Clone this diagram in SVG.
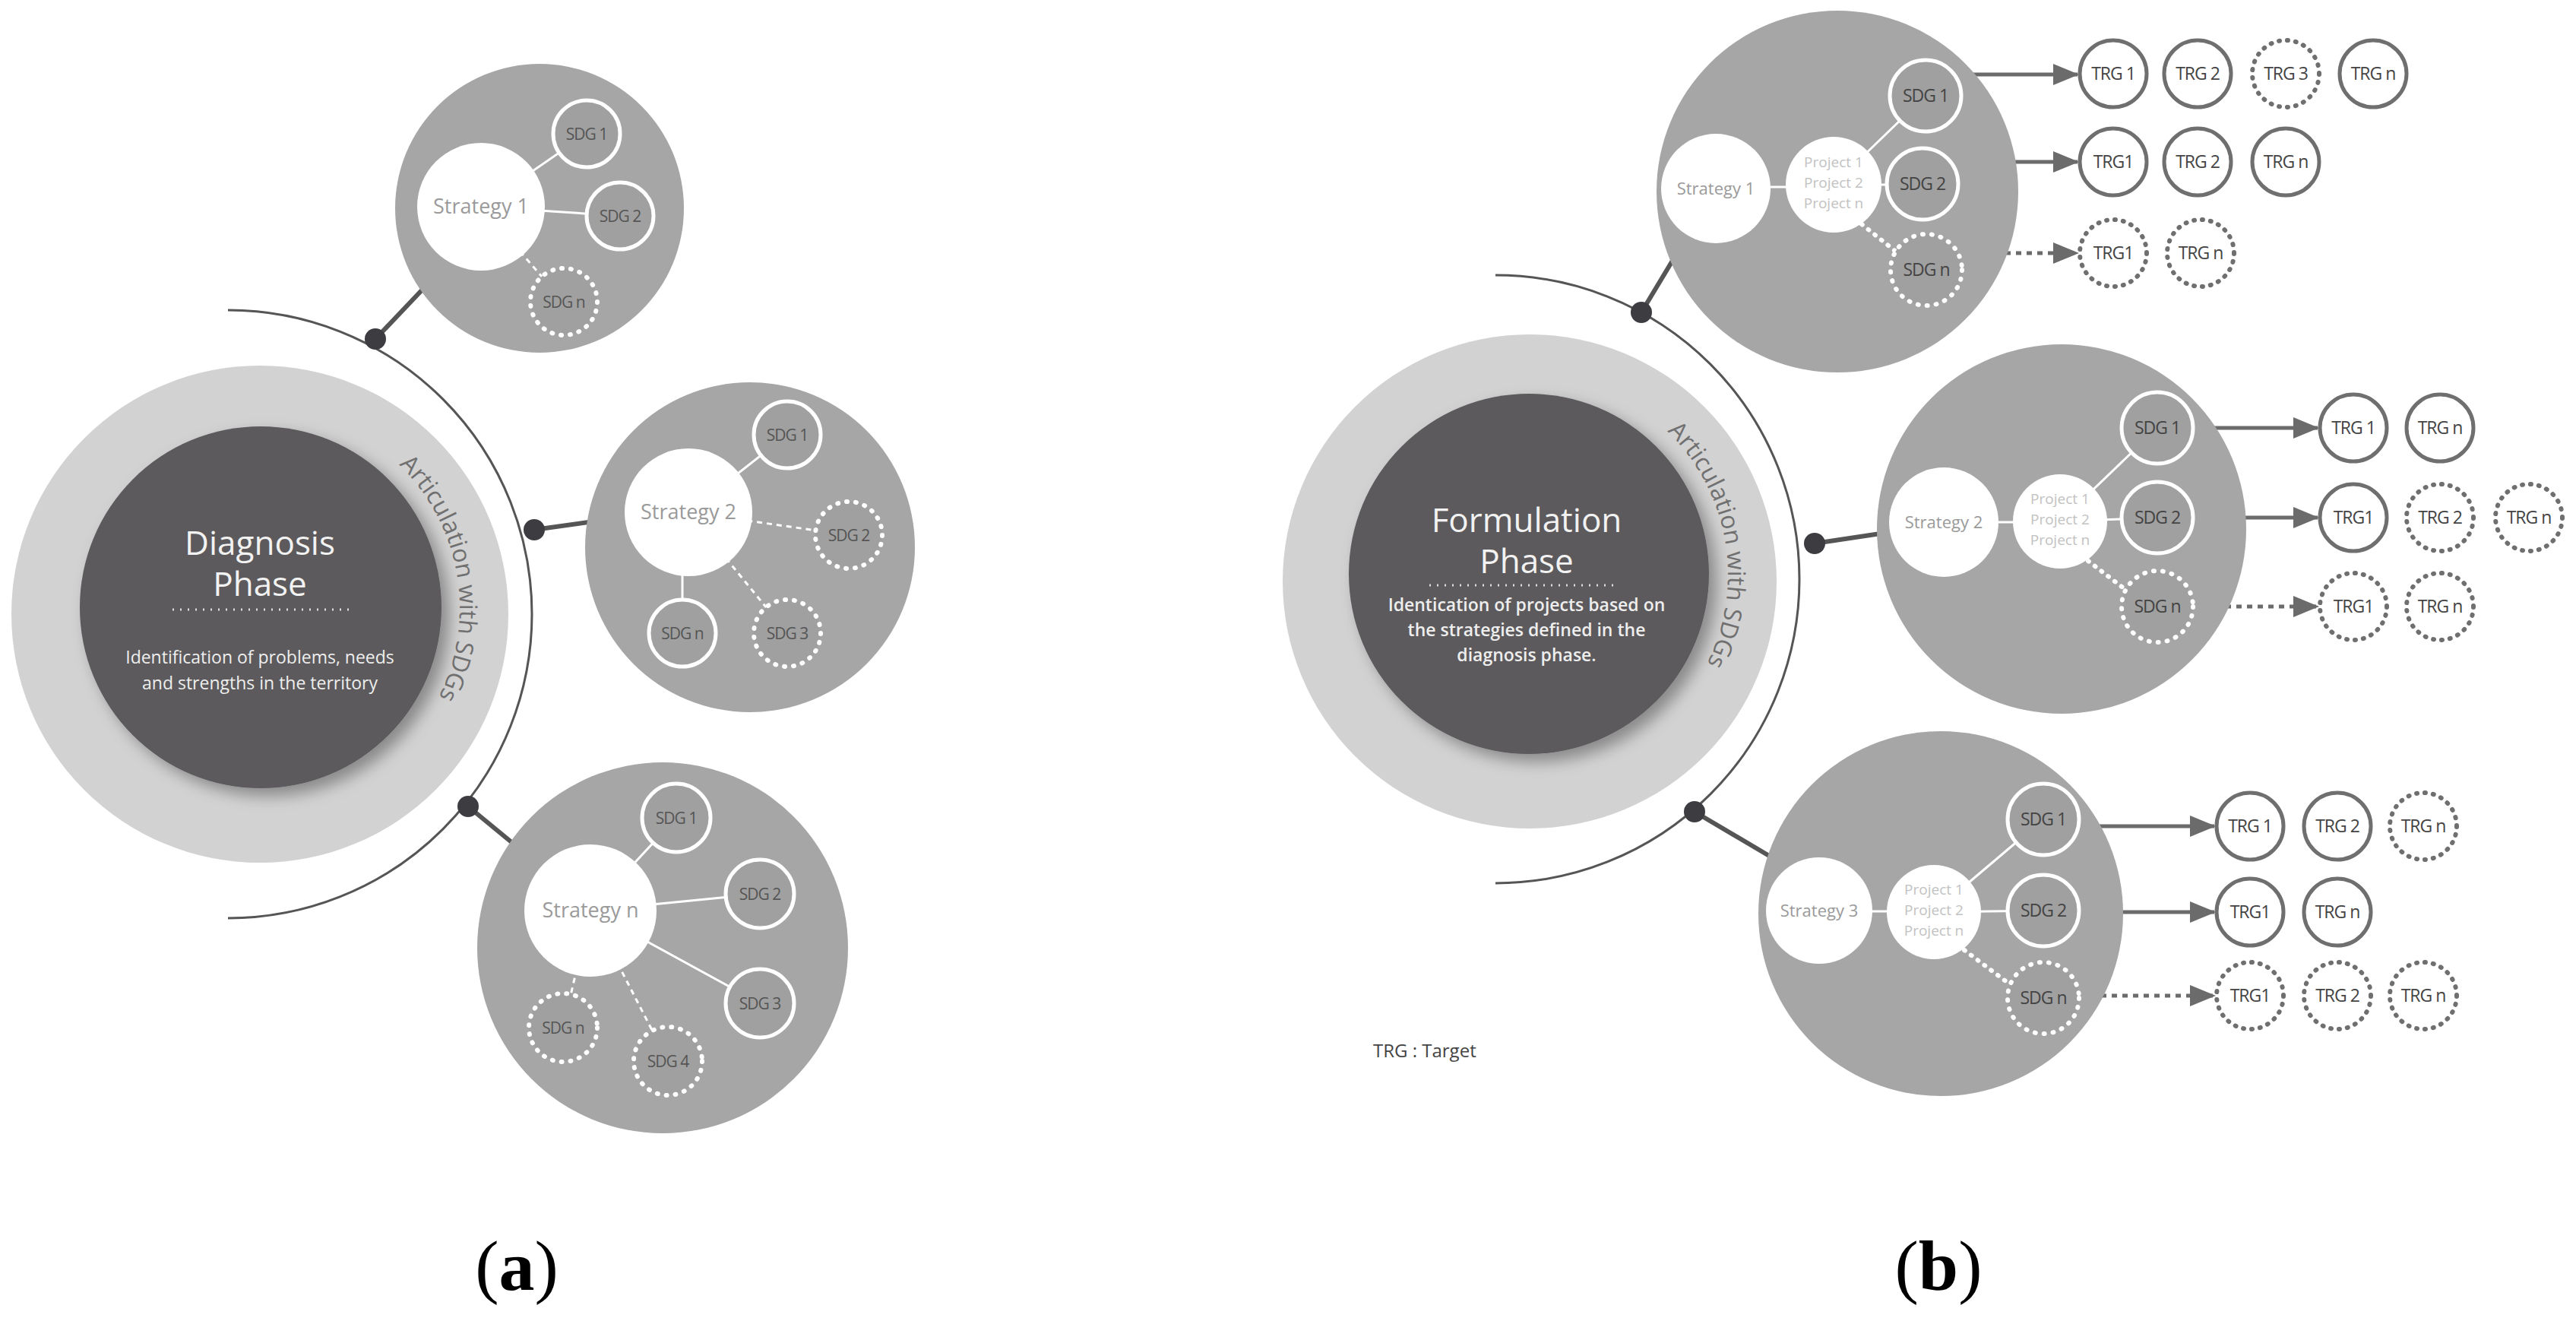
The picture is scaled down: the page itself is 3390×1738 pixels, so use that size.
<svg xmlns="http://www.w3.org/2000/svg" width="3390" height="1738" viewBox="0 0 3390 1738">
<defs>
<style>
text{font-family:"Open Sans","Liberation Sans",sans-serif}
.ring{fill:#d3d2d3}
.core{fill:#5b5a5c;filter:url(#sh)}
.big{fill:#a6a6a6}
.wht{fill:#fff}
.sdg{fill:#a0a0a0;stroke:#fff;stroke-width:5}
.sdgd{fill:#a0a0a0;stroke:#fff;stroke-width:6;stroke-dasharray:1 11;stroke-linecap:round}
.arc{fill:none;stroke:#555;stroke-width:3}
.dot{fill:#3d3c41}
.con{stroke:#555;stroke-width:6}
.wl{stroke:#fff;stroke-width:3}
.wd{stroke:#fff;stroke-width:3;stroke-dasharray:7 6}
.wdot{stroke:#fff;stroke-width:6;stroke-dasharray:1 10;stroke-linecap:round}
.trg{fill:#fff;stroke:#6f6f6f;stroke-width:5}
.trgd{fill:#fff;stroke:#6f6f6f;stroke-width:6;stroke-dasharray:1 10;stroke-linecap:round}
.arr{stroke:#6b6b6b;stroke-width:5;marker-end:url(#ah)}
.arrd{stroke:#6b6b6b;stroke-width:5;stroke-dasharray:7 7;marker-end:url(#ah)}
.st{fill:#9a9a9a;font-size:27px;text-anchor:middle}
.stb{fill:#9a9a9a;font-size:22px;text-anchor:middle}
.pj{fill:#c2c2c2;font-size:19px;text-anchor:middle}
.sl{fill:#555;font-size:21px;text-anchor:middle;letter-spacing:-1px}
.slb{fill:#444;font-size:23px;text-anchor:middle;letter-spacing:-1px}
.tl{fill:#444;font-size:23px;text-anchor:middle;letter-spacing:-1px}
.title{fill:#f2f2f2;font-size:44px;text-anchor:middle}
.desc{fill:#eee;font-size:23px;text-anchor:middle}
.descb{fill:#eee;font-size:23px;font-weight:600;text-anchor:middle}
.art{fill:#707070;font-size:32px}
.dl{stroke:#ddd;stroke-width:3;stroke-dasharray:2 8}
.lab{font-family:"Liberation Serif",serif;font-size:94px;text-anchor:middle;fill:#000}
</style>
<filter id="sh" x="-20%" y="-20%" width="150%" height="150%"><feDropShadow dx="10" dy="10" stdDeviation="10" flood-color="#000" flood-opacity="0.35"/></filter>
<marker id="ah" markerUnits="userSpaceOnUse" markerWidth="34" markerHeight="28" refX="32" refY="14" orient="auto"><path d="M0,0 L34,14 L0,28 Z" fill="#6b6b6b"/></marker>
<path id="pa" d="M525,611.5 A262,262 0 0 1 543.7,968.4"/>
<path id="pb" d="M2194,567.5 A262,262 0 0 1 2212.7,924.4"/>
</defs>
<rect width="3390" height="1738" fill="#fff"/>

<!-- Panel a -->
<g id="diagnosis">
<circle class="ring" cx="342" cy="808" r="327"/>
<circle class="core" cx="343" cy="799" r="238"/>
<text class="title" x="342" y="730">Diagnosis</text>
<text class="title" x="342" y="784">Phase</text>
<line class="dl" x1="227" y1="802" x2="462" y2="802"/>
<text class="desc" x="342" y="873">Identification of  problems, needs</text>
<text class="desc" x="342" y="907">and strengths in the territory</text>
<text class="art"><textPath href="#pa">Articulation with SDGs</textPath></text>
</g>
<g id="connectors-a">
<path class="arc" d="M300,408 A400,400 0 0 1 300,1208"/>
<line class="con" x1="494" y1="446" x2="590" y2="345"/>
<line class="con" x1="703" y1="697" x2="824" y2="680"/>
<line class="con" x1="616" y1="1061" x2="712" y2="1140"/>
<circle class="dot" cx="494" cy="446" r="14"/>
<circle class="dot" cx="703" cy="697" r="14"/>
<circle class="dot" cx="616" cy="1061" r="14"/>
</g>
<g id="strategy1-a">
<circle class="big" cx="710" cy="274" r="190"/>
<line class="wl" x1="633" y1="272" x2="772" y2="176"/>
<line class="wl" x1="633" y1="272" x2="816" y2="284"/>
<line class="wd" x1="633" y1="272" x2="742" y2="397"/>
<circle class="wht" cx="633" cy="272" r="84"/>
<text class="st" x="633" y="281">Strategy 1</text>
<circle class="sdg" cx="772" cy="176" r="44"/><text class="sl" x="772" y="184">SDG 1</text>
<circle class="sdg" cx="816" cy="284" r="44"/><text class="sl" x="816" y="292">SDG 2</text>
<circle class="sdgd" cx="742" cy="397" r="44"/><text class="sl" x="742" y="405">SDG n</text>
</g>
<g id="strategy2-a">
<circle class="big" cx="987" cy="720" r="217"/>
<line class="wl" x1="906" y1="674" x2="1036" y2="572"/>
<line class="wd" x1="906" y1="674" x2="1117" y2="704"/>
<line class="wd" x1="906" y1="674" x2="1036" y2="833"/>
<line class="wl" x1="898" y1="674" x2="898" y2="833"/>
<circle class="wht" cx="906" cy="674" r="84"/>
<text class="st" x="906" y="683">Strategy 2</text>
<circle class="sdg" cx="1036" cy="572" r="44"/><text class="sl" x="1036" y="580">SDG 1</text>
<circle class="sdgd" cx="1117" cy="704" r="44"/><text class="sl" x="1117" y="712">SDG 2</text>
<circle class="sdgd" cx="1036" cy="833" r="44"/><text class="sl" x="1036" y="841">SDG 3</text>
<circle class="sdg" cx="898" cy="833" r="44"/><text class="sl" x="898" y="841">SDG n</text>
</g>
<g id="strategyn-a">
<circle class="big" cx="872" cy="1247" r="244"/>
<line class="wl" x1="777" y1="1198" x2="890" y2="1076"/>
<line class="wl" x1="777" y1="1198" x2="1000" y2="1176"/>
<line class="wl" x1="777" y1="1198" x2="1000" y2="1320"/>
<line class="wd" x1="777" y1="1198" x2="879" y2="1396"/>
<line class="wd" x1="777" y1="1198" x2="741" y2="1352"/>
<circle class="wht" cx="777" cy="1198" r="87"/>
<text class="st" x="777" y="1207">Strategy n</text>
<circle class="sdg" cx="890" cy="1076" r="45"/><text class="sl" x="890" y="1084">SDG 1</text>
<circle class="sdg" cx="1000" cy="1176" r="45"/><text class="sl" x="1000" y="1184">SDG 2</text>
<circle class="sdg" cx="1000" cy="1320" r="45"/><text class="sl" x="1000" y="1328">SDG 3</text>
<circle class="sdgd" cx="879" cy="1396" r="45"/><text class="sl" x="879" y="1404">SDG 4</text>
<circle class="sdgd" cx="741" cy="1352" r="45"/><text class="sl" x="741" y="1360">SDG n</text>
</g>
<text class="lab" x="680" y="1697">(<tspan font-weight="bold">a</tspan>)</text>

<!-- Panel b -->
<g id="formulation">
<circle class="ring" cx="2013" cy="765" r="325"/>
<circle class="core" cx="2012" cy="755" r="237"/>
<text class="title" x="2009" y="700">Formulation</text>
<text class="title" x="2009" y="754">Phase</text>
<line class="dl" x1="1881" y1="770" x2="2129" y2="770"/>
<text class="descb" x="2009" y="804">Identication of projects based on</text>
<text class="descb" x="2009" y="837">the strategies defined in the</text>
<text class="descb" x="2009" y="870">diagnosis phase.</text>
<text class="art"><textPath href="#pb">Articulation with SDGs</textPath></text>
</g>
<g id="connectors-b">
<path class="arc" d="M1968,362 A400,400 0 0 1 1968,1162"/>
<line class="con" x1="2160" y1="411" x2="2222" y2="308"/>
<line class="con" x1="2388" y1="715" x2="2488" y2="700"/>
<line class="con" x1="2230" y1="1068" x2="2335" y2="1130"/>
<circle class="dot" cx="2160" cy="411" r="14"/>
<circle class="dot" cx="2388" cy="715" r="14"/>
<circle class="dot" cx="2230" cy="1068" r="14"/>
<line class="arr" x1="2583" y1="98" x2="2734" y2="98"/>
<line class="arr" x1="2579" y1="213" x2="2734" y2="213"/>
<line class="arrd" x1="2583" y1="333" x2="2734" y2="333"/>
<line class="arr" x1="2887" y1="563" x2="3050" y2="563"/>
<line class="arr" x1="2887" y1="681" x2="3050" y2="681"/>
<line class="arrd" x1="2887" y1="798" x2="3050" y2="798"/>
<line class="arr" x1="2737" y1="1087" x2="2914" y2="1087"/>
<line class="arr" x1="2737" y1="1200" x2="2914" y2="1200"/>
<line class="arrd" x1="2737" y1="1310" x2="2914" y2="1310"/>
</g>
<g id="strategy1-b">
<circle class="big" cx="2418" cy="252" r="238"/>
<line class="wl" x1="2300" y1="246" x2="2390" y2="246"/>
<line class="wl" x1="2413" y1="243" x2="2534" y2="126"/>
<line class="wl" x1="2413" y1="243" x2="2530" y2="243"/>
<line class="wdot" x1="2450" y1="295" x2="2500" y2="335"/>
<circle class="wht" cx="2258" cy="248" r="72"/>
<text class="stb" x="2258" y="256">Strategy 1</text>
<circle class="wht" cx="2413" cy="243" r="63"/>
<text class="pj" x="2413" y="220">Project 1</text>
<text class="pj" x="2413" y="247">Project 2</text>
<text class="pj" x="2413" y="274">Project n</text>
<circle class="sdg" cx="2534" cy="126" r="47"/><text class="slb" x="2534" y="134">SDG 1</text>
<circle class="sdg" cx="2530" cy="242" r="47"/><text class="slb" x="2530" y="250">SDG 2</text>
<circle class="sdgd" cx="2535" cy="355" r="47"/><text class="slb" x="2535" y="363">SDG n</text>
</g>
<g id="targets1-b">
<circle class="trg" cx="2781" cy="97" r="44"/><text class="tl" x="2781" y="105">TRG 1</text>
<circle class="trg" cx="2892" cy="97" r="44"/><text class="tl" x="2892" y="105">TRG 2</text>
<circle class="trgd" cx="3008" cy="97" r="44"/><text class="tl" x="3008" y="105">TRG 3</text>
<circle class="trg" cx="3123" cy="97" r="44"/><text class="tl" x="3123" y="105">TRG n</text>
<circle class="trg" cx="2781" cy="213" r="44"/><text class="tl" x="2781" y="221">TRG1</text>
<circle class="trg" cx="2892" cy="213" r="44"/><text class="tl" x="2892" y="221">TRG 2</text>
<circle class="trg" cx="3008" cy="213" r="44"/><text class="tl" x="3008" y="221">TRG n</text>
<circle class="trgd" cx="2781" cy="333" r="44"/><text class="tl" x="2781" y="341">TRG1</text>
<circle class="trgd" cx="2896" cy="333" r="44"/><text class="tl" x="2896" y="341">TRG n</text>
</g>
<g id="strategy2-b">
<circle class="big" cx="2713" cy="696" r="243"/>
<line class="wl" x1="2600" y1="687" x2="2690" y2="687"/>
<line class="wl" x1="2711" y1="686" x2="2839" y2="563"/>
<line class="wl" x1="2711" y1="686" x2="2839" y2="681"/>
<line class="wdot" x1="2748" y1="738" x2="2800" y2="778"/>
<circle class="wht" cx="2558" cy="687" r="72"/>
<text class="stb" x="2558" y="695">Strategy 2</text>
<circle class="wht" cx="2711" cy="686" r="62"/>
<text class="pj" x="2711" y="663">Project 1</text>
<text class="pj" x="2711" y="690">Project 2</text>
<text class="pj" x="2711" y="717">Project n</text>
<circle class="sdg" cx="2839" cy="563" r="47"/><text class="slb" x="2839" y="571">SDG 1</text>
<circle class="sdg" cx="2839" cy="681" r="47"/><text class="slb" x="2839" y="689">SDG 2</text>
<circle class="sdgd" cx="2839" cy="798" r="47"/><text class="slb" x="2839" y="806">SDG n</text>
</g>
<g id="targets2-b">
<circle class="trg" cx="3097" cy="563" r="44"/><text class="tl" x="3097" y="571">TRG 1</text>
<circle class="trg" cx="3211" cy="563" r="44"/><text class="tl" x="3211" y="571">TRG n</text>
<circle class="trg" cx="3097" cy="681" r="44"/><text class="tl" x="3097" y="689">TRG1</text>
<circle class="trgd" cx="3211" cy="681" r="44"/><text class="tl" x="3211" y="689">TRG 2</text>
<circle class="trgd" cx="3328" cy="681" r="44"/><text class="tl" x="3328" y="689">TRG n</text>
<circle class="trgd" cx="3097" cy="798" r="44"/><text class="tl" x="3097" y="806">TRG1</text>
<circle class="trgd" cx="3211" cy="798" r="44"/><text class="tl" x="3211" y="806">TRG n</text>
</g>
<g id="strategy3-b">
<circle class="big" cx="2554" cy="1202" r="240"/>
<line class="wl" x1="2440" y1="1199" x2="2520" y2="1199"/>
<line class="wl" x1="2545" y1="1200" x2="2689" y2="1078"/>
<line class="wl" x1="2545" y1="1200" x2="2689" y2="1198"/>
<line class="wdot" x1="2585" y1="1250" x2="2645" y2="1295"/>
<circle class="wht" cx="2394" cy="1198" r="70"/>
<text class="stb" x="2394" y="1206">Strategy 3</text>
<circle class="wht" cx="2545" cy="1200" r="62"/>
<text class="pj" x="2545" y="1177">Project 1</text>
<text class="pj" x="2545" y="1204">Project 2</text>
<text class="pj" x="2545" y="1231">Project n</text>
<circle class="sdg" cx="2689" cy="1078" r="47"/><text class="slb" x="2689" y="1086">SDG 1</text>
<circle class="sdg" cx="2689" cy="1198" r="47"/><text class="slb" x="2689" y="1206">SDG 2</text>
<circle class="sdgd" cx="2689" cy="1313" r="47"/><text class="slb" x="2689" y="1321">SDG n</text>
</g>
<g id="targets3-b">
<circle class="trg" cx="2961" cy="1087" r="44"/><text class="tl" x="2961" y="1095">TRG 1</text>
<circle class="trg" cx="3076" cy="1087" r="44"/><text class="tl" x="3076" y="1095">TRG 2</text>
<circle class="trgd" cx="3189" cy="1087" r="44"/><text class="tl" x="3189" y="1095">TRG n</text>
<circle class="trg" cx="2961" cy="1200" r="44"/><text class="tl" x="2961" y="1208">TRG1</text>
<circle class="trg" cx="3076" cy="1200" r="44"/><text class="tl" x="3076" y="1208">TRG n</text>
<circle class="trgd" cx="2961" cy="1310" r="44"/><text class="tl" x="2961" y="1318">TRG1</text>
<circle class="trgd" cx="3076" cy="1310" r="44"/><text class="tl" x="3076" y="1318">TRG 2</text>
<circle class="trgd" cx="3189" cy="1310" r="44"/><text class="tl" x="3189" y="1318">TRG n</text>
</g>
<text x="1807" y="1391" fill="#444" font-size="24">TRG : Target</text>
<text class="lab" x="2551" y="1697">(<tspan font-weight="bold">b</tspan>)</text>
</svg>
